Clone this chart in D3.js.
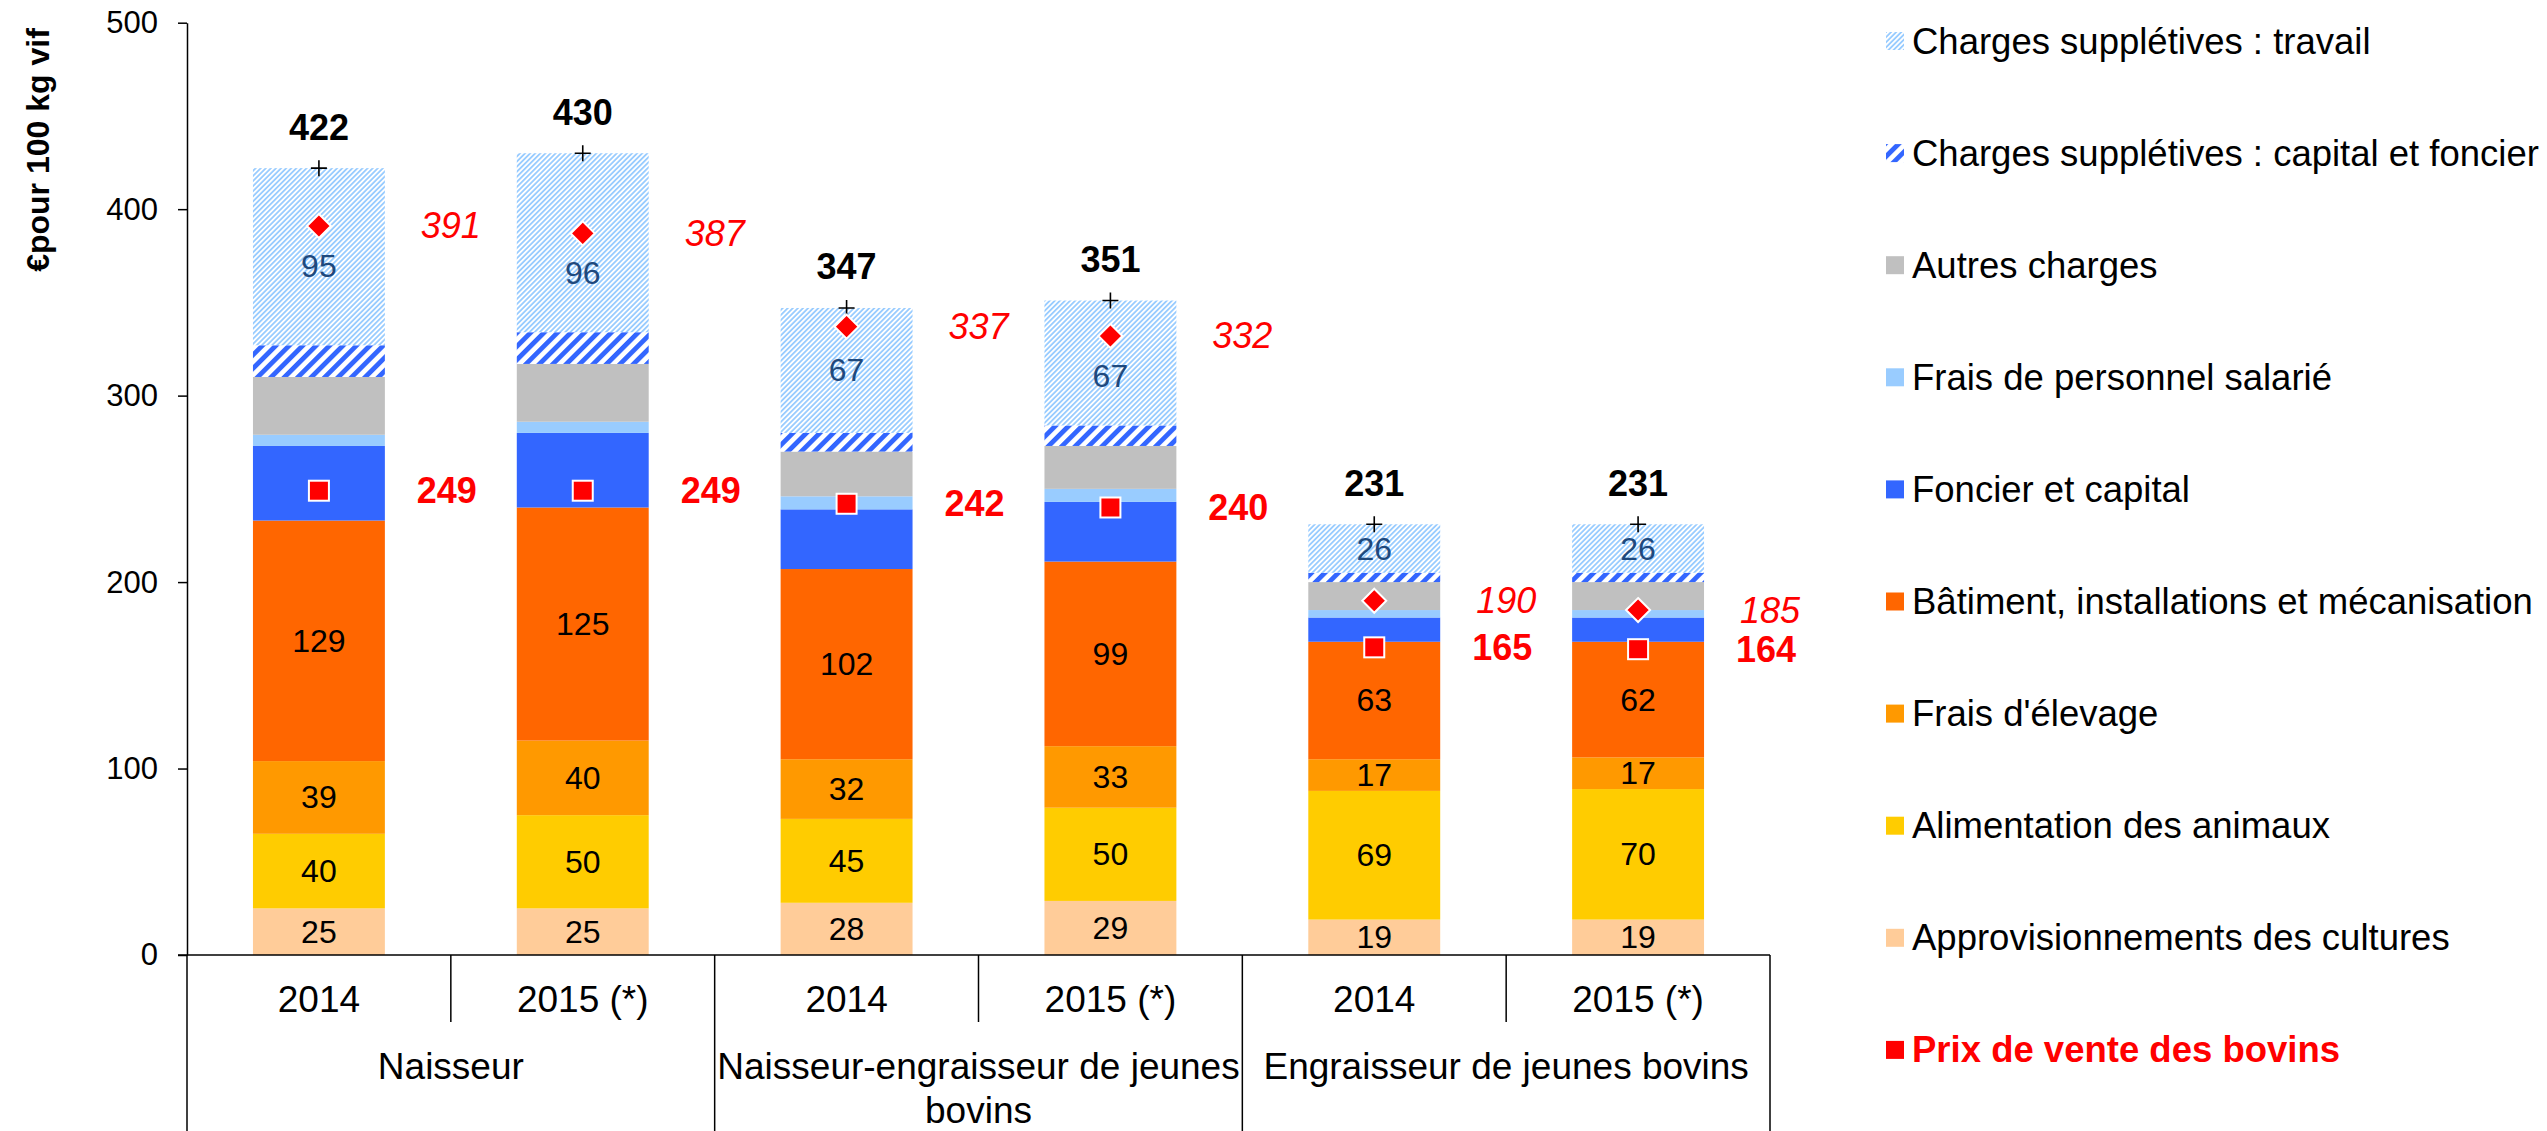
<!DOCTYPE html>
<html>
<head>
<meta charset="utf-8">
<script src="https://cdn.jsdelivr.net/npm/d3@7"></script>
<style>
  body { margin: 0; background: #fff; }
  svg { display: block; font-family: "Liberation Sans", Arial, sans-serif; }
</style>
</head>
<body>
<div id="chart"></div>
<script>
// catégories
const groups = ["Naisseur", "Naisseur-engraisseur de jeunes bovins", "Engraisseur de jeunes bovins"];
const years = ["2014", "2015 (*)"];

// séries (bas -> haut), €/100 kg vif
const approCultures    = [25, 25, 28, 29, 19, 19];
const alimAnimaux      = [40, 50, 45, 50, 69, 70];
const fraisElevage     = [39, 40, 32, 33, 17, 17];
const batiment         = [129, 125, 102, 99, 63, 62];
const foncierCapital   = [40, 40, 32, 32, 13, 13];
const personnelSalarie = [6, 6, 7, 7, 4, 4];
const autresCharges    = [31, 31, 24, 23, 15, 15];
const suppCapital      = [17, 17, 10, 11, 5, 5];
const suppTravail      = [95, 96, 67, 67, 26, 26];

const totals         = [422, 430, 347, 351, 231, 231];
const coutProduction = [391, 387, 337, 332, 190, 185];
const prixVente      = [249, 249, 242, 240, 165, 164];

const yTicks = [0, 100, 200, 300, 400, 500];

// séries empilées
const series = [
  {name: "Approvisionnements des cultures", values: approCultures, fill: "#FFCC99", label: "#000"},
  {name: "Alimentation des animaux", values: alimAnimaux, fill: "#FFCC00", label: "#000"},
  {name: "Frais d'élevage", values: fraisElevage, fill: "#FF9900", label: "#000"},
  {name: "Bâtiment, installations et mécanisation", values: batiment, fill: "#FF6600", label: "#000"},
  {name: "Foncier et capital", values: foncierCapital, fill: "#3366FF", label: null},
  {name: "Frais de personnel salarié", values: personnelSalarie, fill: "#99CCFF", label: null},
  {name: "Autres charges", values: autresCharges, fill: "#C0C0C0", label: null},
  {name: "Charges supplétives : capital et foncier", values: suppCapital, fill: "url(#hatchCapital)", label: null},
  {name: "Charges supplétives : travail", values: suppTravail, fill: "url(#hatchTravail)", label: "#1F497D"}
];

const catIdx = d3.range(groups.length * years.length);

const svg_width = 2547, svg_height = 1131;
const plot = {left: 187, right: 1770, top: 22.7, bottom: 955};

const svg = d3.select("#chart").append("svg")
  .attr("width", svg_width).attr("height", svg_height);

// motifs hachurés
const defs = svg.append("defs");
const pLight = defs.append("pattern").attr("id", "hatchTravail")
  .attr("patternUnits", "userSpaceOnUse").attr("width", 3.6).attr("height", 3.6)
  .attr("patternTransform", "rotate(45)");
pLight.append("rect").attr("width", 3.6).attr("height", 3.6).attr("fill", "#fff");
pLight.append("rect").attr("width", 1.8).attr("height", 3.6).attr("fill", "#99CCFF");
const pDark = defs.append("pattern").attr("id", "hatchCapital")
  .attr("patternUnits", "userSpaceOnUse").attr("width", 9.5).attr("height", 9.5)
  .attr("patternTransform", "rotate(45)");
pDark.append("rect").attr("width", 9.5).attr("height", 9.5).attr("fill", "#fff");
pDark.append("rect").attr("width", 4.8).attr("height", 9.5).attr("fill", "#3366FF");

const x = d3.scaleBand().domain(catIdx).range([plot.left, plot.right])
  .paddingInner(0.5).paddingOuter(0.25);
const y = d3.scaleLinear().domain([0, 500]).range([plot.bottom, plot.top]);

const stackData = catIdx.map(i => {
  const o = {i};
  series.forEach((s, k) => o[k] = s.values[i]);
  return o;
});
const stacked = d3.stack().keys(series.map((s, k) => k))(stackData);

// barres
const layers = svg.append("g").selectAll("g").data(stacked).enter().append("g")
  .attr("fill", d => series[d.key].fill);
layers.selectAll("rect").data(d => d).enter().append("rect")
  .attr("x", d => x(d.data.i))
  .attr("y", d => y(d[1]))
  .attr("width", x.bandwidth())
  .attr("height", d => y(d[0]) - y(d[1]));

// étiquettes des segments (décalées sous le losange s'il tombe dans le segment)
function segLabelY(d) {
  const mid = (y(d[0]) + y(d[1])) / 2;
  const c = coutProduction[d.data.i];
  if (c >= d[0] && c <= d[1]) return Math.max(mid, y(c) + 40);
  return mid;
}
stacked.forEach(layer => {
  const s = series[layer.key];
  if (!s.label) return;
  svg.append("g").selectAll("text").data(layer).enter().append("text")
    .attr("x", d => x(d.data.i) + x.bandwidth() / 2)
    .attr("y", segLabelY)
    .attr("text-anchor", "middle").attr("dominant-baseline", "central")
    .style("font-size", "32px").style("fill", s.label)
    .text(d => d[1] - d[0]);
});

// axe Y
const yAxis = d3.axisLeft(y).tickValues(yTicks).tickSizeInner(9).tickSizeOuter(0).tickPadding(20);
const yAxisDraw = svg.append("g").attr("transform", `translate(${plot.left},0)`).call(yAxis);
yAxisDraw.select(".domain").attr("stroke", "#000").attr("stroke-width", 1.5);
yAxisDraw.selectAll(".tick line").attr("stroke", "#000").attr("stroke-width", 1.5);
yAxisDraw.selectAll("text").style("font-size", "31px").style("fill", "#000")
  .style("font-family", "Liberation Sans, Arial, sans-serif");

svg.append("text")
  .attr("transform", `translate(38,150) rotate(-90)`)
  .attr("text-anchor", "middle").attr("dominant-baseline", "central")
  .style("font-size", "32px").style("font-weight", "bold")
  .text("€pour 100 kg vif");

// axe des catégories (deux niveaux)
const axisG = svg.append("g").attr("stroke", "#000").attr("stroke-width", 1.5);
axisG.append("line").attr("x1", plot.left - 9).attr("x2", plot.right)
  .attr("y1", plot.bottom).attr("y2", plot.bottom);
const step = x.step();
catIdx.concat([catIdx.length]).forEach(i => {
  const xx = plot.left + i * step;
  const full = i % years.length === 0;
  axisG.append("line").attr("x1", xx).attr("x2", xx)
    .attr("y1", plot.bottom).attr("y2", full ? svg_height : 1022);
});

svg.append("g").selectAll("text").data(catIdx).enter().append("text")
  .attr("x", i => x(i) + x.bandwidth() / 2)
  .attr("y", 999)
  .attr("text-anchor", "middle").attr("dominant-baseline", "central")
  .style("font-size", "37px")
  .text(i => years[i % years.length]);

const groupText = svg.append("g").selectAll("text").data(groups).enter().append("text")
  .attr("x", (g, k) => plot.left + (k + 0.5) * step * years.length)
  .attr("y", 1066)
  .attr("text-anchor", "middle").attr("dominant-baseline", "central")
  .style("font-size", "37px");
groupText.each(function(g) {
  const el = d3.select(this);
  const maxW = step * years.length - 4;
  const words = g.split(" ");
  let line = [];
  let tspan = el.append("tspan").attr("x", el.attr("x")).attr("dy", 0);
  words.forEach(w => {
    line.push(w);
    tspan.text(line.join(" "));
    if (tspan.node().getComputedTextLength() > maxW && line.length > 1) {
      line.pop();
      tspan.text(line.join(" "));
      line = [w];
      tspan = el.append("tspan").attr("x", el.attr("x")).attr("dy", 44).text(w);
    }
  });
});

// marqueurs
const cx = i => x(i) + x.bandwidth() / 2;
const labelDx = step / 2;

svg.append("g").selectAll("path").data(catIdx).enter().append("path")
  .attr("d", i => `M${cx(i) - 8},${y(totals[i])}h16M${cx(i)},${y(totals[i]) - 8}v16`)
  .attr("stroke", "#000").attr("stroke-width", 1.6);
svg.append("g").selectAll("text").data(catIdx).enter().append("text")
  .attr("x", cx).attr("y", i => y(totals[i]) - 41)
  .attr("text-anchor", "middle").attr("dominant-baseline", "central")
  .style("font-size", "36px").style("font-weight", "bold")
  .text(i => totals[i]);

svg.append("g").selectAll("path").data(catIdx).enter().append("path")
  .attr("d", i => `M${cx(i)},${y(coutProduction[i]) - 12}l12,12l-12,12l-12,-12z`)
  .attr("fill", "#FF0000").attr("stroke", "#fff").attr("stroke-width", 2);
svg.append("g").selectAll("text").data(catIdx).enter().append("text")
  .attr("x", i => cx(i) + labelDx).attr("y", i => y(coutProduction[i]))
  .attr("text-anchor", "middle").attr("dominant-baseline", "central")
  .style("font-size", "36px").style("font-style", "italic").style("fill", "#FF0000")
  .text(i => coutProduction[i]);

svg.append("g").selectAll("rect").data(catIdx).enter().append("rect")
  .attr("x", i => cx(i) - 10).attr("y", i => y(prixVente[i]) - 10)
  .attr("width", 20).attr("height", 20)
  .attr("fill", "#FF0000").attr("stroke", "#fff").attr("stroke-width", 2);
svg.append("g").selectAll("text").data(catIdx).enter().append("text")
  .attr("x", i => cx(i) + labelDx - 4).attr("y", i => y(prixVente[i]))
  .attr("text-anchor", "middle").attr("dominant-baseline", "central")
  .style("font-size", "36px").style("font-weight", "bold").style("fill", "#FF0000")
  .text(i => prixVente[i]);

// légende
const legendItems = series.slice().reverse().map(s => ({name: s.name, fill: s.fill, color: "#000", bold: false}))
  .concat([{name: "Prix de vente des bovins", fill: "#FF0000", color: "#FF0000", bold: true}]);
const legend = svg.append("g").selectAll("g").data(legendItems).enter().append("g")
  .attr("transform", (d, k) => `translate(1886,${41 + k * 112.1})`);
legend.append("rect").attr("x", 0).attr("y", -9).attr("width", 18).attr("height", 18)
  .attr("fill", d => d.fill);
legend.append("text").attr("x", 26).attr("y", 0)
  .attr("dominant-baseline", "central")
  .style("font-size", "36.5px").style("fill", d => d.color)
  .style("font-weight", d => d.bold ? "bold" : "normal")
  .text(d => d.name);
</script>
</body>
</html>
